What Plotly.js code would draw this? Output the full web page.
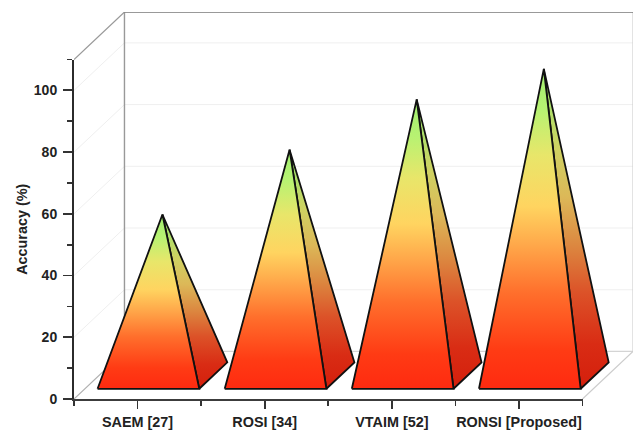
<!DOCTYPE html>
<html><head><meta charset="utf-8">
<script src="https://cdn.plot.ly/plotly-3.0.1.min.js"></script>
<style>html,body{margin:0;padding:0;background:#fff}</style></head>
<body><div id="chart" style="width:637px;height:431px"></div>
<script>
const categories = ["SAEM [27]", "ROSI [34]", "VTAIM [52]", "RONSI [Proposed]"];
const accuracy = [52.2, 73.2, 89.5, 99.4];
const yMajorTicks = [0, 20, 40, 60, 80, 100];
const yMinorTicks = [10, 30, 50, 70, 90, 110];
const yTop = 110;

// oblique projection of the chart box, in axis units
const depthX = 0.397, depthY = 15.4;
const barWidth = 0.8, depthFront = 0.215, depthBack = 0.77;
const px = (c, d) => c + depthX * d;
const py = (v, d) => v + depthY * d;

const frontScale = [[0,'#ff2a10'],[0.12,'#ff3b14'],[0.3,'#ff6f2c'],[0.45,'#ffa84a'],[0.57,'#ffd460'],[0.73,'#e8e66a'],[0.87,'#b8f272'],[1,'#a0f070']];
const sideScale  = [[0,'#d41f0c'],[0.14,'#d92c14'],[0.3,'#dc5228'],[0.45,'#dc8840'],[0.6,'#dcb858'],[0.75,'#cfd262'],[0.88,'#aee06a'],[1,'#9ce46c']];

const traces = [];
// the visible front axes carry the category and value scales
traces.push({type:'scatter', mode:'lines', x:categories.map((_, i) => i), y:accuracy, xaxis:'x', yaxis:'y',
  line:{color:'rgba(0,0,0,0)', width:0}, hoverinfo:'skip', showlegend:false});
function line(xs, ys, color, width) {
  traces.push({type:'scatter', mode:'lines', x:xs, y:ys, xaxis:'x2', yaxis:'y2', cliponaxis:false,
    line:{color:color, width:width, simplify:false}, hoverinfo:'skip', showlegend:false});
}
// walls
yMajorTicks.filter(v => v > 0).forEach(v => {
  line([px(-0.5,0), px(-0.5,1), px(3.5,1)], [py(v,0), py(v,1), py(v,1)], '#efefef', 1);
});
line([px(3.5,1), px(3.5,1)], [py(0,1), py(yTop,1)], '#d0d0d0', 1.2);
line([px(-0.5,1), px(3.5,1)], [py(0,1), py(0,1)], '#d4d4d4', 1.2);
line([px(3.5,0), px(3.5,1)], [py(0,0), py(0,1)], '#cccccc', 1.2);
line([px(-0.5,0), px(-0.5,1)], [py(0,0), py(0,1)], '#b0b0b0', 1.2);
line([px(-0.5,0), px(-0.5,1)], [py(yTop,0), py(yTop,1)], '#999999', 1.2);
line([px(-0.5,1), px(-0.5,1)], [py(0,1), py(yTop,1)], '#999999', 1.4);
line([px(-0.5,1), px(3.5,1)], [py(yTop,1), py(yTop,1)], '#777777', 1.4);

// pyramids
categories.forEach((c, i) => {
  const h = barWidth / 2, v = accuracy[i], dm = (depthFront + depthBack) / 2;
  const apexX = px(i, dm), apexY = py(v, dm);
  const face = (xs, ys, scale) => traces.push({type:'scatter', mode:'lines', x:xs, y:ys, xaxis:'x2', yaxis:'y2', fill:'toself',
    fillgradient:{type:'vertical', colorscale:scale},
    line:{color:'#111111', width:1.8, simplify:false}, cliponaxis:false, hoverinfo:'skip', showlegend:false});
  face([px(i+h,depthFront), px(i+h,depthBack), apexX, px(i+h,depthFront)],
       [py(0,depthFront), py(0,depthBack), apexY, py(0,depthFront)], sideScale);
  face([px(i-h,depthFront), px(i+h,depthFront), apexX, px(i-h,depthFront)],
       [py(0,depthFront), py(0,depthFront), apexY, py(0,depthFront)], frontScale);
});

const fontFamily = '"Liberation Sans", Arial, sans-serif';
const layout = {
  width:637, height:431, paper_bgcolor:'rgba(0,0,0,0)', plot_bgcolor:'rgba(0,0,0,0)', showlegend:false, hovermode:false,
  margin:{l:74, r:4, t:11.7, b:31.7, pad:0},
  xaxis:{domain:[0, 4/(4+depthX)], range:[-0.5, 3.5], anchor:'y', showgrid:false, zeroline:false,
    showline:true, linecolor:'#3c3c3c', linewidth:1.8,
    tickmode:'array', tickvals:categories.map((_, i) => i), ticktext:categories,
    ticks:'outside', ticklen:8, tickwidth:1.8, tickcolor:'#333333',
    tickfont:{family:fontFamily, size:14.4, color:'#222222', weight:700}, ticklabelstandoff:1,
    minor:{tickmode:'array', tickvals:[-0.5,0.5,1.5,2.5,3.5], ticks:'outside', ticklen:5, tickwidth:1.8, tickcolor:'#333333', showgrid:false}},
  yaxis:{domain:[0, yTop/(yTop+depthY)], range:[0, yTop], anchor:'x', showgrid:false, zeroline:false,
    showline:true, linecolor:'#2b2b2b', linewidth:2,
    tickmode:'array', tickvals:yMajorTicks, ticks:'outside', ticklen:9, tickwidth:1.8, tickcolor:'#333333',
    tickfont:{family:fontFamily, size:14, color:'#222222', weight:700}, ticklabelstandoff:3,
    minor:{tickmode:'array', tickvals:yMinorTicks, ticks:'outside', ticklen:5, tickwidth:1.8, tickcolor:'#333333', showgrid:false},
    title:{text:'Accuracy (%)', standoff:3, font:{family:fontFamily, size:14.4, color:'#222222', weight:700}}},
  xaxis2:{domain:[0,1], range:[-0.5, 3.5 + depthX], anchor:'y2', visible:false},
  yaxis2:{domain:[0,1], range:[0, yTop + depthY], anchor:'x2', visible:false}
};
Plotly.newPlot('chart', traces, layout, {displayModeBar:false, staticPlot:true});
</script></body></html>
